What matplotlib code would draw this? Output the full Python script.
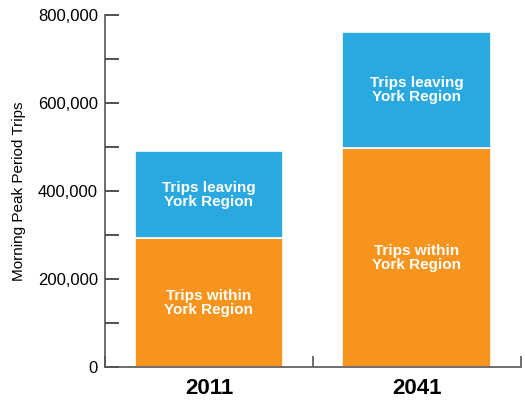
import matplotlib.pyplot as plt
from matplotlib.ticker import MultipleLocator, FuncFormatter

years = ['2011', '2041']
within = [293000, 497000]
leaving = [198000, 265000]
within_label = 'Trips within\nYork Region'
leaving_label = 'Trips leaving\nYork Region'

orange = '#F7941D'
blue = '#29A9E0'
axis_col = '#555555'
fam = ['Liberation Sans Narrow', 'Liberation Sans', 'DejaVu Sans']
plt.rcParams['font.family'] = fam

fig = plt.figure(figsize=(5.25, 4), dpi=100)
ax = fig.add_axes([0.2, 0.0825, 0.792, 0.88])

x = [0.5, 1.5]
ax.bar(x, within, width=0.716, color=orange, edgecolor='white', linewidth=1.2)
ax.bar(x, leaving, width=0.716, bottom=within, color=blue, edgecolor='white', linewidth=1.2)

for xi, w, l in zip(x, within, leaving):
    ax.text(xi, w / 2, within_label, ha='center', va='center', color='white',
            fontsize=11, fontweight='bold', linespacing=1.0)
    ax.text(xi, w + l / 2, leaving_label, ha='center', va='center', color='white',
            fontsize=11, fontweight='bold', linespacing=1.0)

ax.set_xlim(0, 2)
ax.set_ylim(0, 800000)
ax.yaxis.set_major_locator(MultipleLocator(200000))
ax.yaxis.set_minor_locator(MultipleLocator(100000))
ax.yaxis.set_major_formatter(FuncFormatter(lambda v, p: f'{int(v):,}'))
ax.set_xticks([0, 1, 2])
ax.set_xticklabels([])
ax.set_xticks(x, minor=True)
ax.set_xticklabels(years, minor=True, fontsize=16, fontweight='bold')

for s in ['top', 'right']:
    ax.spines[s].set_visible(False)
for s in ['left', 'bottom']:
    ax.spines[s].set_color(axis_col)
    ax.spines[s].set_linewidth(1.2)

ax.tick_params(axis='y', which='both', direction='in', length=10, width=1.2,
               color='#333333', labelsize=12, pad=5)
ax.tick_params(axis='x', which='major', direction='in', length=8, width=1.2, color=axis_col)
ax.tick_params(axis='x', which='minor', length=0, pad=8)

ax.set_ylabel('Morning Peak Period Trips', fontsize=11)
ax.yaxis.set_label_coords(-0.19, 0.5)

fig.savefig('out.png', dpi=100)
